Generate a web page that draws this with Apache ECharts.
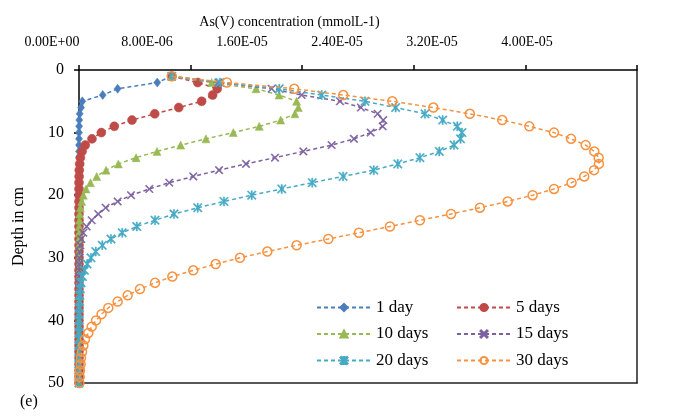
<!DOCTYPE html>
<html>
<head>
<meta charset="utf-8">
<script src="https://cdn.jsdelivr.net/npm/echarts@6/dist/echarts.min.js"></script>
<style>
  html, body { margin: 0; padding: 0; background: #fff; }
  #chart { width: 673px; height: 417px; }
</style>
</head>
<body>
<div id="chart"></div>
<script>
// Depth of each profile point (cm)
const depths = [1, 2, 3, 4, 5, 6, 7, 8, 9, 10, 11, 12, 13, 14, 15, 16, 17, 18, 19, 20,
  21, 22, 23, 24, 25, 26, 27, 28, 29, 30, 31, 32, 33, 34, 35, 36, 37, 38, 39, 40,
  41, 42, 43, 44, 45, 46, 47, 48, 49, 50];

// As(V) concentration profiles (mmol/L) after each elapsed time
const day1 = [6.65e-6, 5.61e-6, 2.77e-6, 1.70e-6, 2.4e-7, 1.5e-7, 5e-8, 2e-8, 1e-8, 0,
  0, 0, 0, 0, 0, 0, 0, 0, 0, 0, 0, 0, 0, 0, 0, 0, 0, 0, 0, 0,
  0, 0, 0, 0, 0, 0, 0, 0, 0, 0, 0, 0, 0, 0, 0, 0, 0, 0, 0, 0];
const days5 = [6.65e-6, 8.51e-6, 9.91e-6, 9.58e-6, 8.79e-6, 7.15e-6, 5.43e-6, 3.80e-6, 2.53e-6, 1.60e-6,
  9.3e-7, 4.5e-7, 2.2e-7, 1.0e-7, 5e-8, 2e-8, 1e-8, 0, 0, 0,
  0, 0, 0, 0, 0, 0, 0, 0, 0, 0, 0, 0, 0, 0, 0, 0, 0, 0, 0, 0,
  0, 0, 0, 0, 0, 0, 0, 0, 0, 0];
const days10 = [6.65e-6, 9.51e-6, 1.269e-5, 1.434e-5, 1.560e-5, 1.572e-5, 1.548e-5, 1.446e-5, 1.292e-5, 1.106e-5,
  9.10e-6, 7.29e-6, 5.59e-6, 4.09e-6, 2.82e-6, 1.94e-6, 1.27e-6, 8.2e-7, 5.0e-7, 3.1e-7,
  1.9e-7, 1.0e-7, 5e-8, 3e-8, 1e-8, 0, 0, 0, 0, 0,
  0, 0, 0, 0, 0, 0, 0, 0, 0, 0, 0, 0, 0, 0, 0, 0, 0, 0, 0, 0];
const days15 = [6.65e-6, 1.00e-5, 1.381e-5, 1.596e-5, 1.871e-5, 2.021e-5, 2.141e-5, 2.181e-5, 2.177e-5, 2.091e-5,
  1.971e-5, 1.811e-5, 1.608e-5, 1.405e-5, 1.197e-5, 1.004e-5, 8.19e-6, 6.47e-6, 5.04e-6, 3.73e-6,
  2.77e-6, 1.91e-6, 1.38e-6, 9.1e-7, 5.5e-7, 3.1e-7, 1.6e-7, 8e-8, 4e-8, 2e-8,
  1e-8, 0, 0, 0, 0, 0, 0, 0, 0, 0, 0, 0, 0, 0, 0, 0, 0, 0, 0, 0];
const days20 = [6.65e-6, 1.011e-5, 1.436e-5, 1.740e-5, 2.050e-5, 2.270e-5, 2.480e-5, 2.607e-5, 2.712e-5, 2.745e-5,
  2.735e-5, 2.689e-5, 2.583e-5, 2.444e-5, 2.285e-5, 2.113e-5, 1.893e-5, 1.672e-5, 1.453e-5, 1.238e-5,
  1.039e-5, 8.51e-6, 6.81e-6, 5.45e-6, 4.14e-6, 3.10e-6, 2.29e-6, 1.67e-6, 1.20e-6, 8.6e-7,
  5.9e-7, 3.9e-7, 2.5e-7, 1.5e-7, 9e-8, 6e-8, 4e-8, 2e-8, 1e-8, 0,
  0, 0, 0, 0, 0, 0, 0, 0, 0, 0];
const days30 = [6.65e-6, 1.060e-5, 1.543e-5, 1.894e-5, 2.246e-5, 2.540e-5, 2.802e-5, 3.034e-5, 3.228e-5, 3.405e-5,
  3.527e-5, 3.632e-5, 3.694e-5, 3.725e-5, 3.727e-5, 3.692e-5, 3.622e-5, 3.531e-5, 3.405e-5, 3.252e-5,
  3.073e-5, 2.874e-5, 2.667e-5, 2.444e-5, 2.229e-5, 2.007e-5, 1.787e-5, 1.560e-5, 1.350e-5, 1.154e-5,
  9.80e-6, 8.19e-6, 6.69e-6, 5.45e-6, 4.37e-6, 3.49e-6, 2.77e-6, 2.10e-6, 1.62e-6, 1.22e-6,
  9.1e-7, 6.7e-7, 4.3e-7, 3.1e-7, 2.2e-7, 1.4e-7, 1.2e-7, 7e-8, 5e-8, 3e-8];

const seriesNames = ['1 day', '5 days', '10 days', '15 days', '20 days', '30 days'];
const seriesValues = [day1, days5, days10, days15, days20, days30];

// Concentration axis ticks and their labels
const concMin = 0, concMax = 4e-5, concStep = 8e-6;
const concTickLabels = ['0.00E+00', '8.00E-06', '1.60E-05', '2.40E-05', '3.20E-05', '4.00E-05'];
const depthMin = 0, depthMax = 50, depthStep = 10;

const FONT = 'Liberation Serif';
const colors = ['#4A7EBB', '#BE4B48', '#98B954', '#7D60A0', '#46AAC5', '#F69240'];

const xMark = 'path://M0,1L1,0L5,4L9,0L10,1L6,5L10,9L9,10L5,6L1,10L0,9L4,5Z';
const starMark = 'path://M0,1L1,0L5,4L9,0L10,1L6,5L10,9L9,10L5,6L1,10L0,9L4,5Z M4.3,0L5.7,0L5.7,10L4.3,10Z';

const markerStyles = [
  { symbol: 'diamond', symbolSize: [7, 9] },
  { symbol: 'circle', symbolSize: 9 },
  { symbol: 'triangle', symbolSize: 8 },
  { symbol: xMark, symbolSize: 8 },
  { symbol: starMark, symbolSize: 9 },
  { symbol: 'circle', symbolSize: 9, hollow: true }
];

const series = seriesNames.map((name, i) => {
  const m = markerStyles[i];
  return {
    name: name,
    type: 'line',
    xAxisIndex: 0,
    yAxisIndex: 0,
    data: depths.map((d, k) => [seriesValues[i][k], d]),
    symbol: m.symbol,
    symbolSize: m.symbolSize,
    showSymbol: true,
    lineStyle: { color: colors[i], width: 1.5, type: [4, 3] },
    itemStyle: m.hollow
      ? { color: 'rgba(255,255,255,0)', borderColor: colors[i], borderWidth: 1.5 }
      : { color: colors[i], borderColor: colors[i], borderWidth: 0.5 },
    emphasis: { disabled: true },
    z: 2 + i
  };
});

const chart = echarts.init(document.getElementById('chart'), null, { renderer: 'canvas' });

const legendBase = {
  orient: 'vertical',
  top: 294,
  itemWidth: 54,
  itemHeight: 9,
  itemGap: 9.5,
  textStyle: { fontFamily: FONT, fontSize: 17, color: '#000' },
  selectedMode: false
};

chart.setOption({
  animation: false,
  backgroundColor: '#fff',
  grid: [
    { left: 79, right: 36, top: 70, bottom: 34 },
    // row that carries the concentration tick labels and title
    { left: 52, right: 146, top: 70, bottom: 34 }
  ],
  xAxis: [
    {
      gridIndex: 0, type: 'value', position: 'top',
      min: concMin, max: concMax, interval: concStep,
      axisLine: { show: true, lineStyle: { color: '#000', width: 1.5 } },
      axisTick: { show: true, inside: false, length: 5, lineStyle: { color: '#000', width: 1.5 } },
      axisLabel: { show: false },
      splitLine: { show: false }
    },
    {
      gridIndex: 0, type: 'value', position: 'bottom',
      min: concMin, max: concMax, interval: concStep,
      axisLine: { show: true, onZero: false, lineStyle: { color: '#222', width: 1.5 } },
      axisTick: { show: false }, axisLabel: { show: false }, splitLine: { show: false }
    },
    {
      gridIndex: 1, type: 'value', position: 'top',
      min: concMin, max: concMax, interval: concStep,
      axisLine: { show: false }, axisTick: { show: false }, splitLine: { show: false },
      axisLabel: {
        show: true, margin: 21, color: '#000', fontFamily: FONT, fontSize: 14,
        formatter: v => concTickLabels[Math.round((v - concMin) / concStep)]
      },
      name: 'As(V) concentration (mmolL-1)',
      nameLocation: 'middle',
      nameGap: 41,
      nameTextStyle: { fontFamily: FONT, fontSize: 14, color: '#000' }
    }
  ],
  yAxis: [
    {
      gridIndex: 0, type: 'value', inverse: true,
      min: depthMin, max: depthMax, interval: depthStep,
      axisLine: { show: true, onZero: false, lineStyle: { color: '#000', width: 1.5 } },
      axisTick: { show: true, inside: false, length: 5, lineStyle: { color: '#000', width: 1.5 } },
      axisLabel: { show: true, margin: 15, color: '#000', fontFamily: FONT, fontSize: 16 },
      splitLine: { show: false },
      name: 'Depth in cm',
      nameLocation: 'middle',
      nameGap: 52,
      nameTextStyle: { fontFamily: FONT, fontSize: 16, color: '#000' }
    },
    {
      gridIndex: 0, type: 'value', inverse: true, position: 'right',
      min: depthMin, max: depthMax, interval: depthStep,
      axisLine: { show: true, onZero: false, lineStyle: { color: '#222', width: 1.5 } },
      axisTick: { show: false }, axisLabel: { show: false }, splitLine: { show: false }
    },
    { gridIndex: 1, type: 'value', show: false, min: 0, max: 1 }
  ],
  legend: [
    Object.assign({}, legendBase, { left: 311, data: ['1 day', '10 days', '20 days'] }),
    Object.assign({}, legendBase, { left: 451, data: ['5 days', '15 days', '30 days'] })
  ],
  graphic: [
    {
      type: 'text', left: 20, top: 394,
      style: { text: '(e)', fontFamily: FONT, fontSize: 16, fill: '#000' }
    }
  ],
  series: series
});
</script>
</body>
</html>
